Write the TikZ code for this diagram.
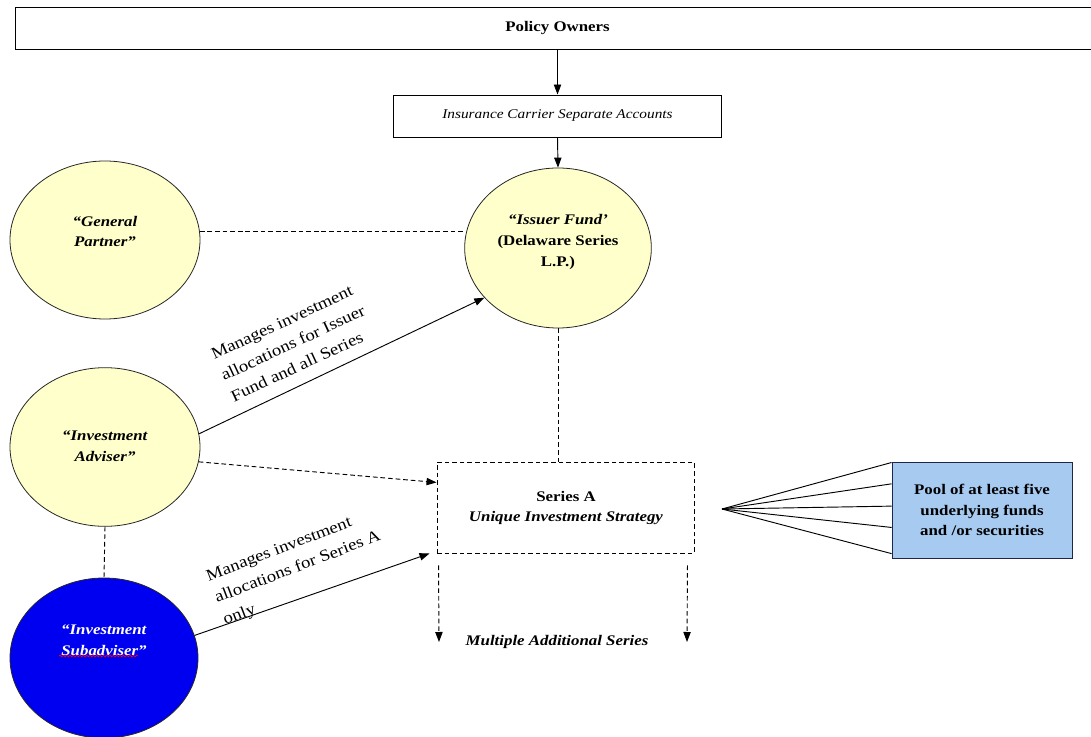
\documentclass[tikz,border=0pt]{standalone}
\usepackage{fontspec}
\setmainfont{Liberation Serif}[FakeStretch=1.15]
\usetikzlibrary{shapes.geometric,arrows.meta,decorations.pathmorphing,calc}
\definecolor{ellyellow}{RGB}{255,255,204}
\definecolor{subblue}{RGB}{0,0,240}
\definecolor{poolblue}{RGB}{166,202,240}
\definecolor{poolline}{RGB}{30,40,70}
\begin{document}
\begin{tikzpicture}[x=0.75pt,y=-0.75pt,
  txt/.style={font=\fontsize{11pt}{15.5pt}\selectfont, align=center, inner sep=0pt},
  lab/.style={font=\fontsize{12.2pt}{17.5pt}\selectfont, align=left, inner sep=0pt},
  ell/.style={ellipse, draw=black!85, line width=0.6pt, inner sep=0pt},
  boxs/.style={draw, line width=0.7pt, inner sep=0pt},
  conn/.style={line width=0.7pt},
  arr/.style={conn, -{Triangle[length=7.5pt,width=5.5pt]}},
  dsh/.style={dash pattern=on 3.5pt off 2.2pt}]

\useasboundingbox (0,0) rectangle (1091,737);

% boxes
\node[boxs, txt, minimum width=813.75pt, minimum height=32pt] (po) at (557.5,28.5) {\textbf{Policy Owners}};
\node[boxs, txt, minimum width=246pt, minimum height=31.5pt] (ins) at (557.5,116) {\fontsize{10pt}{12pt}\selectfont\itshape Insurance Carrier Separate Accounts};

% ellipses
\node[ell, fill=ellyellow, minimum width=140pt, minimum height=120pt] (iss) at (558,248) {};
\node[txt] (isstext) at (558,242) {\textbf{\textit{“Issuer Fund’}}\\\textbf{(Delaware Series}\\\textbf{L.P.)}};

\node[ell, fill=ellyellow, minimum width=142.5pt, minimum height=118.5pt] (gp) at (105,240) {};
\node[txt] (gptext) at (105,231.5) {\textbf{\textit{“General}}\\\textbf{\textit{Partner”}}};

\node[ell, fill=ellyellow, minimum width=142.5pt, minimum height=119pt] (adv) at (105,447) {};
\node[txt] (advtext) at (105,446) {\textbf{\textit{“Investment}}\\\textbf{\textit{Adviser”}}};

\node[ell, fill=subblue, minimum width=141pt, minimum height=120pt] (sub) at (104,658) {};
\node[txt, text=white] (subtext) at (104,640) {\textbf{\textit{“Investment}}\\\textbf{\textit{Subadviser”}}};
\draw[red, line width=0.5pt, decorate, decoration={snake, amplitude=0.6pt, segment length=2.5pt}]
  ($(subtext.center)+(-45,16)$) -- ++(79,0);

% series A and pool
\node[draw, conn, dsh, minimum width=192.75pt, minimum height=68.25pt] (sa) at (565.5,507.5) {};
\node[txt] (satext) at (566,508) {\textbf{Series A}\\\textbf{\textit{Unique Investment Strategy}}};

\node[draw=poolline, fill=poolblue, line width=0.7pt, txt, minimum width=135pt, minimum height=72pt] (pool) at (982,510)
  {\textbf{Pool of at least five}\\\textbf{underlying funds}\\\textbf{and /or securities}};

\node[txt] (mas) at (557,642) {\textbf{\textit{Multiple Additional Series}}};

% connectors
\draw[arr] (po.south) -- (ins.north);
\draw[arr] (ins.south) -- (iss.north);
\draw[conn, dsh] (gp.5) -- (gp.5 -| iss.west);
\draw[arr] (adv.8) -- (iss.214);
\draw[arr, dsh] (adv.-9) -- (sa.169);
\draw[arr] (sub.14) -- ($(sa.south west)+(-7,0)$);
\draw[conn, dsh] (adv.south) -- (sub.north);
\draw[conn, dsh] (iss.south) -- (iss.south |- sa.north);

\coordinate (m1) at (439,642);
\coordinate (m2) at (687,642);
\draw[arr, dsh] ($(sa.south west)+(2,12)$) -- (m1);
\draw[arr, dsh] ($(sa.south east)+(-7,12)$) -- (m2);

\coordinate (fan) at (722,509);
\foreach \f in {0.01,0.23,0.46,0.68,0.95}
  \draw[conn] (fan) -- ($(pool.north west)!\f!(pool.south west)$);

% labels
\node[lab, rotate=25] (lab1) at (293,343) {Manages investment\\allocations for Issuer\\Fund and all Series};
\node[lab, rotate=21] (lab2) at (298,568) {Manages investment\\allocations for Series A\\only};
\end{tikzpicture}
\end{document}
